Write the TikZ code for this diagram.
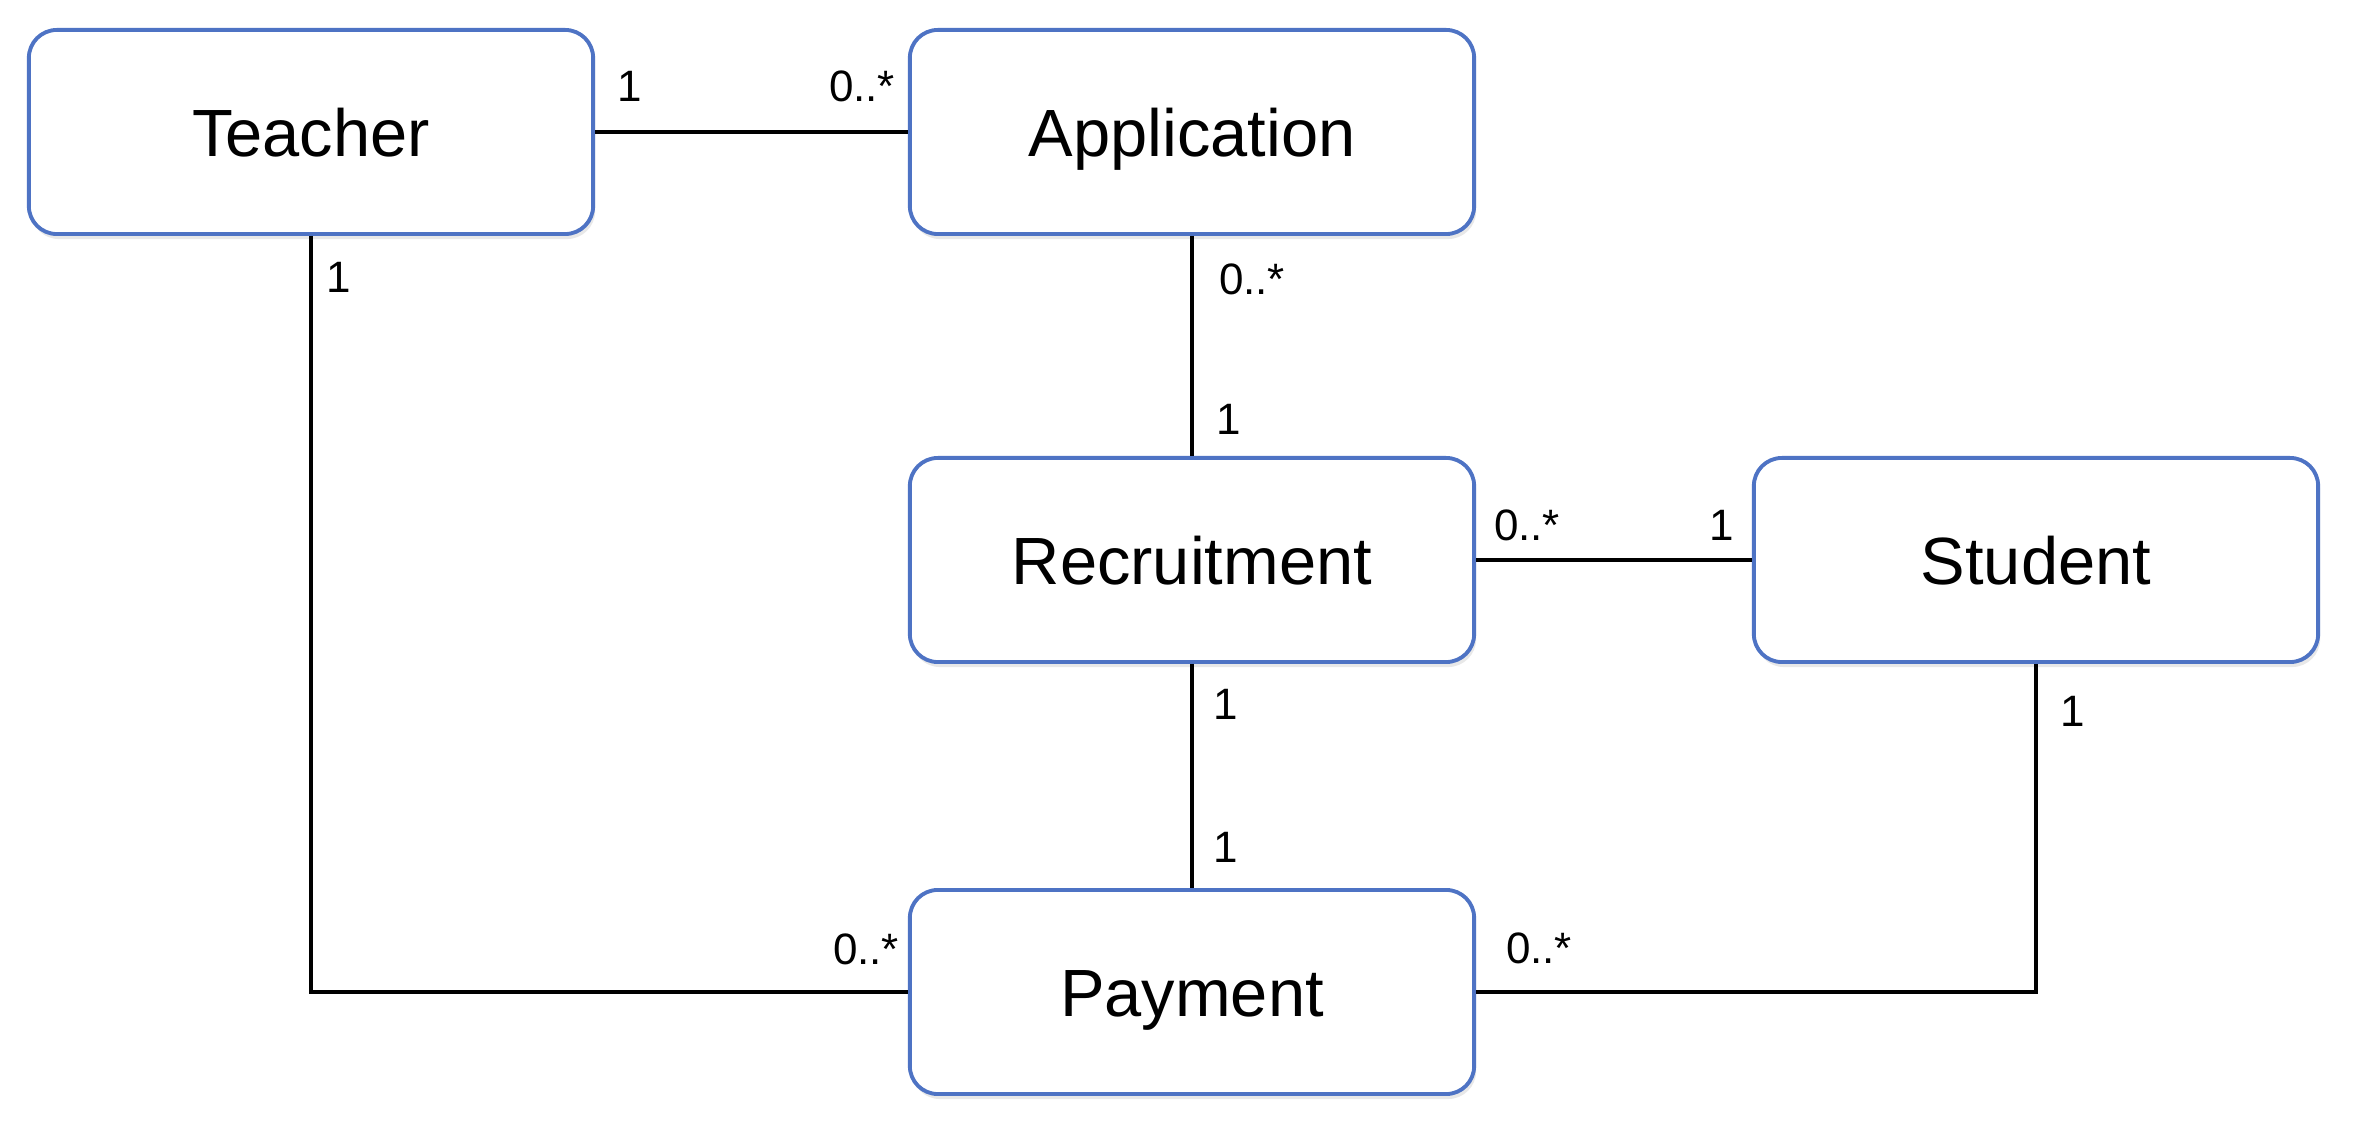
\documentclass[tikz,border=0pt]{standalone}
\usepackage{fontspec}
\setmainfont{Liberation Sans}
\usetikzlibrary{shadows}
\definecolor{boxblue}{HTML}{4E73C4}

\begin{document}
\begin{tikzpicture}[x=0.01cm, y=-0.01cm,
    entity/.style={draw=boxblue, line width=1.1pt, rounded corners=0.28cm, fill=white,
        minimum width=5.64cm, minimum height=2.04cm, text height=0.49cm, text depth=0pt,
        font=\fontsize{19}{23}\selectfont,
        drop shadow={shadow xshift=0.02cm, shadow yshift=-0.05cm, opacity=0.18}},
    assoc/.style={line width=0.9pt},
    mult/.style={inner sep=0pt, font=\fontsize{12.5}{15}\selectfont}]
    % Fix the page size
    \useasboundingbox (0,0) rectangle (2362,1128);
    
    % Draw the classes
    \node[entity] (teacher) at (311,132) {Teacher};
    \node[entity] (application) at (1192,132) {Application};
    \node[entity] (recruitment) at (1192,560) {Recruitment};
    \node[entity] (student) at (2036,560) {Student};
    \node[entity] (payment) at (1192,992) {Payment};
    
    % Draw the associations
    \draw[assoc] (teacher) -- (application);
    \draw[assoc] (application) -- (recruitment);
    \draw[assoc] (recruitment) -- (student);
    \draw[assoc] (recruitment) -- (payment);
    \draw[assoc] (teacher) |- (payment);
    \draw[assoc] (student) |- (payment);
    
    % Label the multiplicities
    \node[mult] (ta1) at (630,86) {1};
    \node[mult] (ta2) at (862,86) {0..*};
    \node[mult] (tp1) at (339,277) {1};
    \node[mult] (tp2) at (866,949) {0..*};
    \node[mult] (ar1) at (1252,279) {0..*};
    \node[mult] (ar2) at (1229,419) {1};
    \node[mult] (rs1) at (1527,525) {0..*};
    \node[mult] (rs2) at (1722,525) {1};
    \node[mult] (rp1) at (1226,704) {1};
    \node[mult] (rp2) at (1226,847) {1};
    \node[mult] (sp1) at (2073,711) {1};
    \node[mult] (sp2) at (1539,948) {0..*};
    
\end{tikzpicture}
\end{document}
